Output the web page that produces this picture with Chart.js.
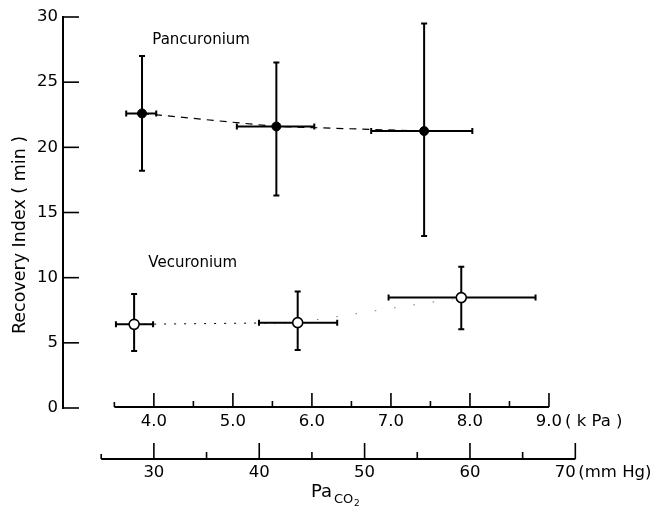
<!DOCTYPE html>
<html>
<head>
<meta charset="utf-8">
<script src="https://cdn.jsdelivr.net/npm/chart.js@4.4.0/dist/chart.umd.min.js"></script>
<style>
  html, body { margin: 0; padding: 0; background: #fff; }
  #wrap { width: 658px; height: 508px; }
</style>
</head>
<body>
<div id="wrap"><canvas id="chart" width="658" height="508"></canvas></div>
<script>
// Pancuronium: x = PaCO2 (kPa), y = recovery index (min)
const pancX = [3.85, 5.55, 7.42];
const pancXLo = [3.65, 5.05, 6.75];
const pancXHi = [4.03, 6.03, 8.03];
const pancY = [22.6, 21.6, 21.25];
const pancYLo = [18.2, 16.3, 13.2];
const pancYHi = [27.0, 26.5, 29.5];

// Vecuronium
const vecX = [3.75, 5.82, 7.89];
const vecXLo = [3.52, 5.33, 6.97];
const vecXHi = [3.99, 6.32, 8.83];
const vecY = [6.42, 6.55, 8.47];
const vecYLo = [4.37, 4.45, 6.04];
const vecYHi = [8.75, 8.93, 10.84];

// axis ticks
const yTicks = [0, 5, 10, 15, 20, 25, 30];
const kPaMajor = [4.0, 5.0, 6.0, 7.0, 8.0, 9.0];
const kPaMinor = [4.5, 5.5, 6.5, 7.5, 8.5];
const kPaRange = [3.5, 9.0];
const mmHgMajor = [30, 40, 50, 60, 70];
const mmHgMinor = [35, 45, 55, 65];
const mmHgRange = [25, 70];

const KPA_TO_MMHG = 7.5;
const FONT = '"DejaVu Sans", sans-serif';

function pts(xs, ys) {
    return xs.map((v, i) => ({ x: v, y: ys[i] }));
}

const seriesBars = [
    { x: pancX, xLo: pancXLo, xHi: pancXHi, y: pancY, yLo: pancYLo, yHi: pancYHi },
    { x: vecX, xLo: vecXLo, xHi: vecXHi, y: vecY, yLo: vecYLo, yHi: vecYHi }
];

// error bars drawn under the points
const errorBars = {
    id: 'errorBars',
    beforeDatasetsDraw(chart) {
        const { ctx, scales: { x, y } } = chart;
        ctx.save();
        ctx.strokeStyle = '#000';
        ctx.lineWidth = 2;
        const cap = 3;
        seriesBars.forEach(s => {
            s.x.forEach((xv, i) => {
                const px = x.getPixelForValue(xv);
                const py = y.getPixelForValue(s.y[i]);
                const x0 = x.getPixelForValue(s.xLo[i]);
                const x1 = x.getPixelForValue(s.xHi[i]);
                const y0 = y.getPixelForValue(s.yLo[i]);
                const y1 = y.getPixelForValue(s.yHi[i]);
                ctx.beginPath();
                ctx.moveTo(x0, py); ctx.lineTo(x1, py);
                ctx.moveTo(x0, py - cap); ctx.lineTo(x0, py + cap);
                ctx.moveTo(x1, py - cap); ctx.lineTo(x1, py + cap);
                ctx.moveTo(px, y0); ctx.lineTo(px, y1);
                ctx.moveTo(px - cap, y0); ctx.lineTo(px + cap, y0);
                ctx.moveTo(px - cap, y1); ctx.lineTo(px + cap, y1);
                ctx.stroke();
            });
        });
        ctx.restore();
    }
};

// two stacked horizontal axes + inner y ticks + text
const paperAxes = {
    id: 'paperAxes',
    afterDraw(chart) {
        const { ctx, scales: { x, x2, y } } = chart;
        ctx.save();
        ctx.strokeStyle = '#000';
        ctx.fillStyle = '#000';

        // y tick marks pointing inward
        ctx.lineWidth = 1.6;
        const left = chart.chartArea.left;
        yTicks.forEach(v => {
            const py = y.getPixelForValue(v);
            ctx.beginPath();
            ctx.moveTo(left, py); ctx.lineTo(left + 16, py);
            ctx.stroke();
        });

        // kPa axis
        const kY = 407;
        ctx.lineWidth = 2;
        ctx.beginPath();
        ctx.moveTo(x.getPixelForValue(kPaRange[0]), kY);
        ctx.lineTo(x.getPixelForValue(kPaRange[1]), kY);
        ctx.stroke();
        ctx.lineWidth = 1.6;
        ctx.beginPath();
        kPaMajor.forEach(v => {
            const p = x.getPixelForValue(v);
            ctx.moveTo(p, kY); ctx.lineTo(p, kY - 14);
        });
        kPaMinor.forEach(v => {
            const p = x.getPixelForValue(v);
            ctx.moveTo(p, kY); ctx.lineTo(p, kY - 6);
        });
        const k0 = x.getPixelForValue(kPaRange[0]);
        ctx.moveTo(k0, kY); ctx.lineTo(k0, kY - 5);
        ctx.stroke();

        ctx.font = '16.5px ' + FONT;
        ctx.textAlign = 'center';
        ctx.textBaseline = 'middle';
        kPaMajor.forEach(v => {
            ctx.fillText(v.toFixed(1), x.getPixelForValue(v), 422);
        });
        ctx.textAlign = 'left';
        ctx.fillText('( k Pa )', x.getPixelForValue(9.0) + 16, 422);

        // mmHg axis
        const mY = 459;
        ctx.lineWidth = 2;
        ctx.beginPath();
        ctx.moveTo(x2.getPixelForValue(mmHgRange[0]), mY);
        ctx.lineTo(x2.getPixelForValue(mmHgRange[1]), mY);
        ctx.stroke();
        ctx.lineWidth = 1.6;
        ctx.beginPath();
        mmHgMajor.forEach(v => {
            const p = x2.getPixelForValue(v);
            ctx.moveTo(p, mY); ctx.lineTo(p, mY - 16);
        });
        mmHgMinor.forEach(v => {
            const p = x2.getPixelForValue(v);
            ctx.moveTo(p, mY); ctx.lineTo(p, mY - 7);
        });
        const m0 = x2.getPixelForValue(mmHgRange[0]);
        ctx.moveTo(m0, mY); ctx.lineTo(m0, mY - 5);
        ctx.stroke();

        ctx.textAlign = 'center';
        mmHgMajor.forEach((v, i) => {
            // last label sits a bit left to make room for the unit
            const shift = i === mmHgMajor.length - 1 ? -10 : 0;
            ctx.fillText(String(v), x2.getPixelForValue(v) + shift, 473);
        });
        ctx.textAlign = 'left';
        ctx.fillText('(mm Hg)', x2.getPixelForValue(70) + 3, 473);

        // Pa CO2 caption
        ctx.font = '18px ' + FONT;
        ctx.fillText('Pa', 311, 492);
        ctx.font = '13px ' + FONT;
        ctx.fillText('CO', 334, 500);
        ctx.font = '9px ' + FONT;
        ctx.fillText('2', 354, 504);

        // series names
        ctx.font = '15px ' + FONT;
        ctx.fillText('Pancuronium', x.getPixelForValue(3.98), y.getPixelForValue(28.25));
        ctx.fillText('Vecuronium', x.getPixelForValue(3.93), y.getPixelForValue(11.1));

        // y title
        ctx.font = '17.5px ' + FONT;
        ctx.textAlign = 'center';
        ctx.translate(20, 235);
        ctx.rotate(-Math.PI / 2);
        ctx.fillText('Recovery Index ( min )', 0, 0);
        ctx.restore();
    }
};

const ctx = document.getElementById('chart').getContext('2d');
new Chart(ctx, {
    type: 'scatter',
    data: {
        datasets: [
            {
                label: 'Pancuronium',
                data: pts(pancX, pancY),
                showLine: true,
                borderColor: '#000',
                borderWidth: 1.2,
                borderDash: [7, 6],
                pointRadius: 4.5,
                pointBackgroundColor: '#000',
                pointBorderColor: '#000',
                pointBorderWidth: 1
            },
            {
                label: 'Vecuronium',
                data: pts(vecX, vecY),
                showLine: true,
                borderColor: '#000',
                borderWidth: 1,
                borderDash: [2, 8],
                segment: {
                    borderDash: c => c.p0DataIndex === 1 ? [1.5, 18] : undefined,
                    borderColor: c => c.p0DataIndex === 1 ? '#777' : undefined
                },
                pointRadius: 5,
                pointBackgroundColor: '#fff',
                pointBorderColor: '#000',
                pointBorderWidth: 1.6
            }
        ]
    },
    options: {
        responsive: false,
        animation: false,
        devicePixelRatio: 1,
        layout: { padding: { left: 0, top: 17, right: 30, bottom: 100 } },
        plugins: { legend: { display: false }, tooltip: { enabled: false } },
        scales: {
            x: {
                type: 'linear',
                display: false,
                min: 2.85,
                max: 10.0
            },
            x2: {
                type: 'linear',
                axis: 'x',
                position: 'bottom',
                display: false,
                min: 2.85 * KPA_TO_MMHG,
                max: 10.0 * KPA_TO_MMHG
            },
            y: {
                min: 0,
                max: 30,
                afterFit: s => { s.width = 63; },
                grid: { display: false, drawTicks: false },
                border: { display: true, color: '#000', width: 2 },
                ticks: {
                    stepSize: 5,
                    padding: 5,
                    color: '#000',
                    font: { family: FONT, size: 16.5 }
                }
            }
        }
    },
    plugins: [errorBars, paperAxes]
});
</script>
</body>
</html>
